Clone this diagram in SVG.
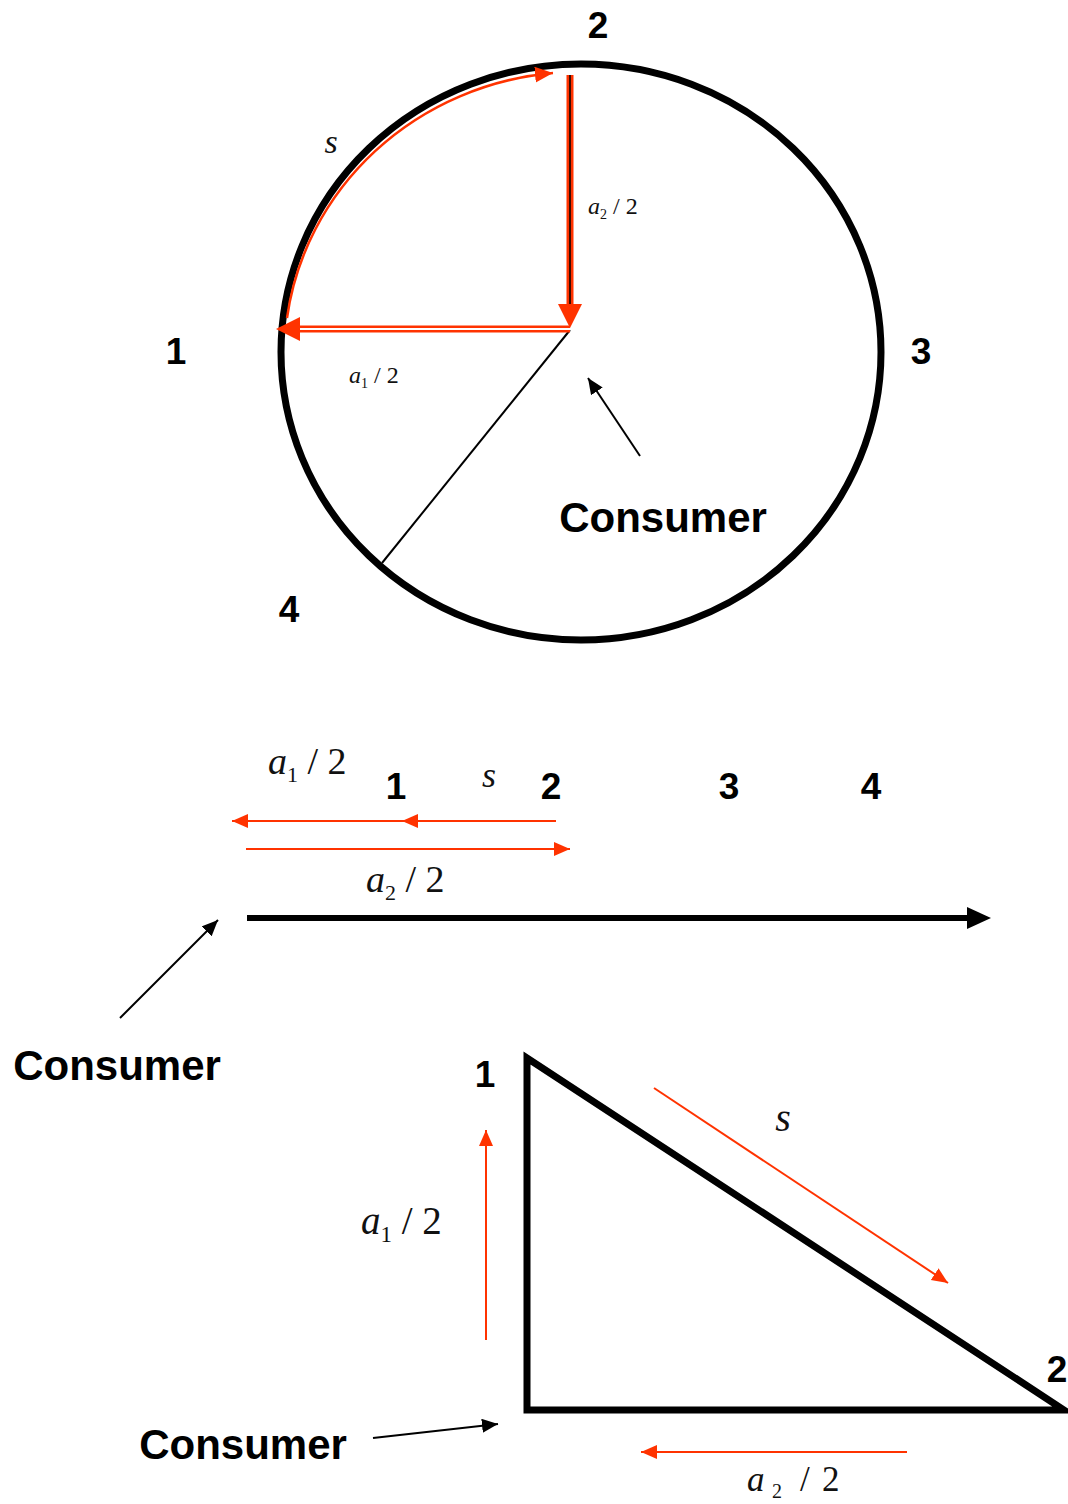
<svg xmlns="http://www.w3.org/2000/svg" width="1068" height="1504" viewBox="0 0 1068 1504">
<style>
.num{font-family:"Liberation Sans",Arial,sans-serif;font-weight:bold;fill:#000}
.lbl{font-family:"Liberation Serif","Times New Roman",serif;fill:#111}
.it{font-style:italic}
.red{stroke:#ff3300;fill:none}
.blk{stroke:#000;fill:none}
</style>
<defs>
<marker id="rh" markerUnits="userSpaceOnUse" markerWidth="20" markerHeight="16" refX="16" refY="7" orient="auto"><path d="M0,0 L16,7 L0,14 z" fill="#ff3300"/></marker>
<marker id="rhA" markerUnits="userSpaceOnUse" markerWidth="22" markerHeight="18" refX="18" refY="8" orient="auto"><path d="M0,0 L18,8 L0,16 z" fill="#ff3300"/></marker>
<marker id="bh" markerUnits="userSpaceOnUse" markerWidth="20" markerHeight="16" refX="16" refY="7" orient="auto"><path d="M0,0 L16,7 L0,14 z" fill="#000"/></marker>
</defs>

<g id="circle-diagram">
<ellipse cx="581" cy="352" rx="300" ry="288" fill="none" stroke="#000" stroke-width="7"/>
<line x1="570" y1="330" x2="382" y2="563" stroke="#000" stroke-width="2"/>
</g>

<g id="connectors">
<!-- circle arrows -->
<path d="M287 318 A296 284 0 0 1 553 73" class="red" stroke-width="2.5" marker-end="url(#rhA)"/>
<line x1="570" y1="75" x2="570" y2="306" stroke="#ff3300" stroke-width="7"/>
<line x1="570" y1="75" x2="570" y2="306" stroke="#000" stroke-width="1.5"/>
<path d="M558 304 L582 304 L570 328 z" fill="#ff3300"/>
<line x1="570" y1="329" x2="299" y2="329" stroke="#ff3300" stroke-width="7"/>
<line x1="570" y1="329" x2="299" y2="329" stroke="#fff" stroke-width="1.8"/>
<path d="M300 317 L300 341 L276 329 z" fill="#ff3300"/>
<line x1="640" y1="456" x2="588" y2="378" stroke="#000" stroke-width="2" marker-end="url(#bh)"/>

<!-- line diagram -->
<line x1="556" y1="821" x2="232" y2="821" class="red" stroke-width="2"/>
<path d="M248 814 L232 821 L248 828 z" fill="#ff3300"/>
<path d="M418 814 L402 821 L418 828 z" fill="#ff3300"/>
<line x1="246" y1="849" x2="570" y2="849" class="red" stroke-width="2"/>
<path d="M554 842 L570 849 L554 856 z" fill="#ff3300"/>
<line x1="247" y1="918" x2="970" y2="918" stroke="#000" stroke-width="6"/>
<path d="M967 907 L991 918 L967 929 z" fill="#000"/>
<line x1="120" y1="1018" x2="218" y2="920" stroke="#000" stroke-width="2" marker-end="url(#bh)"/>

<!-- triangle diagram -->
<line x1="654" y1="1088" x2="948" y2="1283" class="red" stroke-width="2" marker-end="url(#rh)"/>
<line x1="486" y1="1340" x2="486" y2="1130" class="red" stroke-width="2" marker-end="url(#rh)"/>
<line x1="907" y1="1452" x2="641" y2="1452" class="red" stroke-width="2" marker-end="url(#rh)"/>
<line x1="373" y1="1438" x2="498" y2="1424" stroke="#000" stroke-width="2" marker-end="url(#bh)"/>
</g>

<g id="triangle">
<path d="M527 1058 L527 1410 L1064 1410 z" fill="none" stroke="#000" stroke-width="7" stroke-linejoin="miter"/>
</g>

<g id="labels-circle">
<text class="num" x="598" y="38" font-size="37" text-anchor="middle">2</text>
<text class="num" x="176" y="364" font-size="37" text-anchor="middle">1</text>
<text class="num" x="921" y="364" font-size="37" text-anchor="middle">3</text>
<text class="num" x="289" y="622" font-size="37" text-anchor="middle">4</text>
<text class="num" x="663" y="532" font-size="42" text-anchor="middle">Consumer</text>
<text class="lbl it" x="331" y="153" font-size="34" text-anchor="middle">s</text>
<text class="lbl" x="588" y="214" font-size="24"><tspan class="it">a</tspan><tspan font-size="14" dy="5">2</tspan><tspan dy="-5"> / 2</tspan></text>
<text class="lbl" x="349" y="383" font-size="24"><tspan class="it">a</tspan><tspan font-size="14" dy="5">1</tspan><tspan dy="-5"> / 2</tspan></text>
</g>

<g id="labels-line">
<text class="lbl" x="268" y="774" font-size="38"><tspan class="it">a</tspan><tspan font-size="22" dy="8">1</tspan><tspan dy="-8"> / 2</tspan></text>
<text class="num" x="396" y="799" font-size="37" text-anchor="middle">1</text>
<text class="lbl it" x="489" y="787" font-size="36" text-anchor="middle">s</text>
<text class="num" x="551" y="799" font-size="37" text-anchor="middle">2</text>
<text class="num" x="729" y="799" font-size="37" text-anchor="middle">3</text>
<text class="num" x="871" y="799" font-size="37" text-anchor="middle">4</text>
<text class="lbl" x="366" y="892" font-size="38"><tspan class="it">a</tspan><tspan font-size="22" dy="8">2</tspan><tspan dy="-8"> / 2</tspan></text>
<text class="num" x="117" y="1080" font-size="42" text-anchor="middle">Consumer</text>
</g>

<g id="labels-triangle">
<text class="num" x="485" y="1087" font-size="37" text-anchor="middle">1</text>
<text class="num" x="1057" y="1382" font-size="37" text-anchor="middle">2</text>
<text class="lbl it" x="783" y="1131" font-size="40" text-anchor="middle">s</text>
<text class="lbl" x="361" y="1234" font-size="39"><tspan class="it">a</tspan><tspan font-size="23" dy="8">1</tspan><tspan dy="-8"> / 2</tspan></text>
<text class="lbl" x="747" y="1491" font-size="35"><tspan class="it">a</tspan><tspan x="772" font-size="20" dy="7">2</tspan><tspan x="800" dy="-7">/</tspan><tspan x="822">2</tspan></text>
<text class="num" x="243" y="1459" font-size="42" text-anchor="middle">Consumer</text>
</g>
</svg>
